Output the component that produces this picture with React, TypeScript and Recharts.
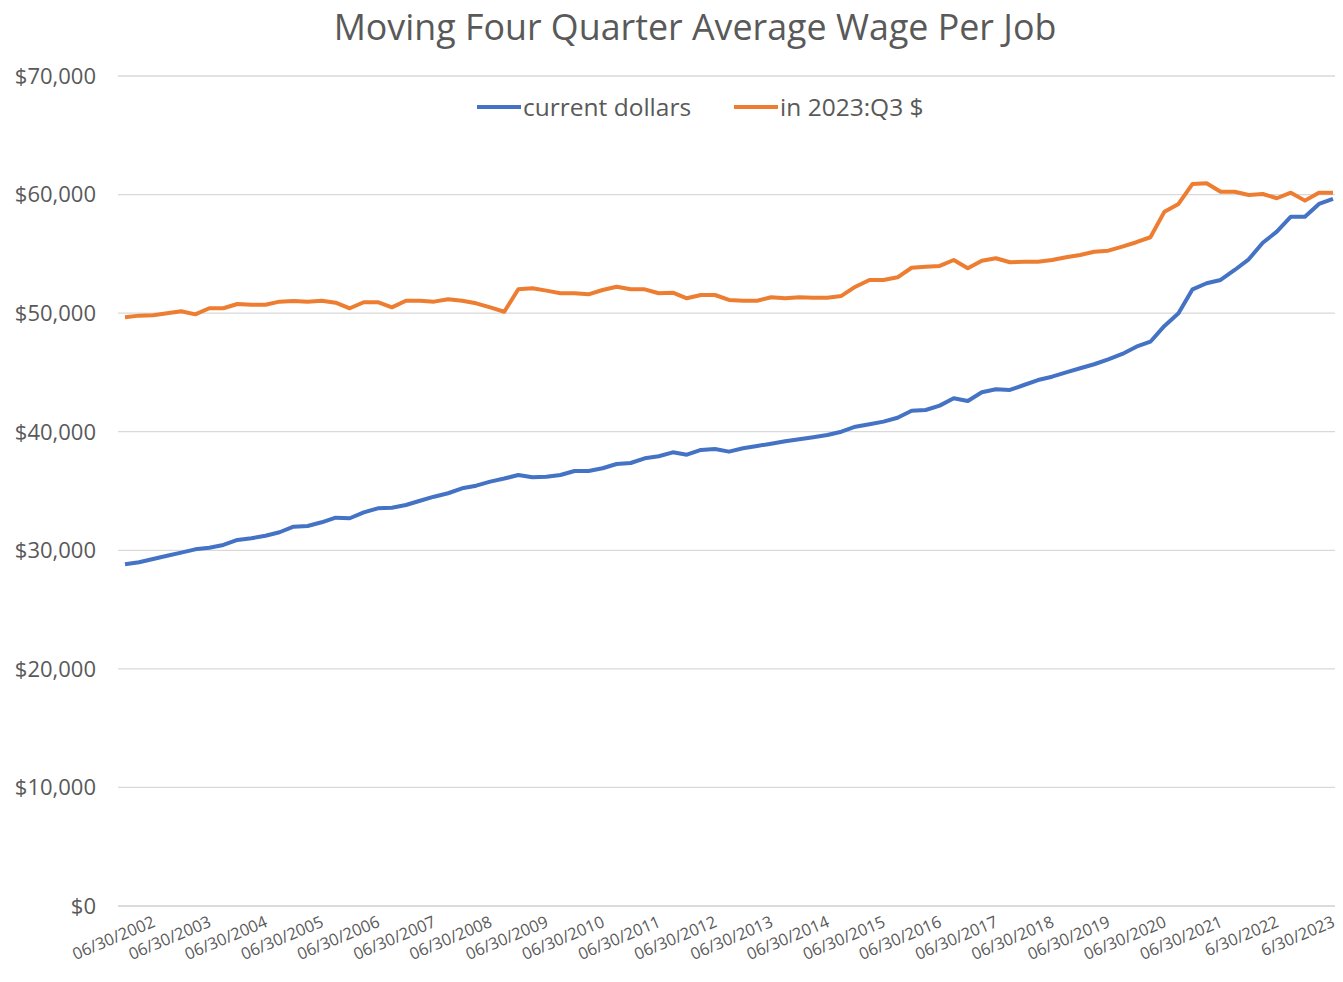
import React from 'react'
import { LineChart, Line, XAxis, YAxis, CartesianGrid } from 'recharts'

// quarter-end categories, 12/31/2001 .. 06/30/2023
const quarterEnds = ['03/31', '06/30', '09/30', '12/31']
const categories: string[] = ['12/31/2001']
for (let y = 2002; y <= 2023; y++) {
  for (const q of quarterEnds) {
    if (categories.length < 87) categories.push(`${q}/${y}`)
  }
}

const tickLabels = [
  '06/30/2002', '06/30/2003', '06/30/2004', '06/30/2005', '06/30/2006', '06/30/2007',
  '06/30/2008', '06/30/2009', '06/30/2010', '06/30/2011', '06/30/2012', '06/30/2013',
  '06/30/2014', '06/30/2015', '06/30/2016', '06/30/2017', '06/30/2018', '06/30/2019',
  '06/30/2020', '06/30/2021', '6/30/2022', '6/30/2023',
]

const currentDollars = [
  28820, 28990, 29270, 29540, 29800, 30080, 30220, 30450, 30870, 31010,
  31230, 31520, 31990, 32050, 32360, 32750, 32700, 33200, 33540, 33590,
  33820, 34180, 34520, 34810, 35230, 35450, 35790, 36050, 36350, 36160,
  36210, 36350, 36690, 36690, 36920, 37280, 37360, 37760, 37930, 38260,
  38060, 38460, 38540, 38320, 38600, 38800, 38990, 39190, 39360, 39530,
  39720, 40000, 40420, 40630, 40850, 41180, 41770, 41830, 42200, 42820,
  42590, 43330, 43580, 43520, 43940, 44360, 44640, 45010, 45350, 45690,
  46110, 46560, 47170, 47590, 48920, 49990, 52010, 52520, 52800, 53640,
  54540, 55940, 56870, 58130, 58130, 59210, 59630,
]

const in2023Q3 = [
  49650, 49790, 49820, 49990, 50160, 49900, 50410, 50410, 50770, 50710,
  50710, 50970, 51030, 50970, 51050, 50880, 50410, 50920, 50920, 50490,
  51050, 51050, 50970, 51170, 51050, 50830, 50480, 50120, 52010, 52100,
  51900, 51680, 51680, 51590, 51950, 52230, 52010, 52010, 51680, 51730,
  51250, 51530, 51530, 51110, 51050, 51050, 51340, 51250, 51340, 51300,
  51300, 51450, 52230, 52800, 52800, 53020, 53830, 53920, 53980, 54480,
  53780, 54420, 54630, 54290, 54340, 54340, 54480, 54710, 54900, 55180,
  55270, 55610, 55980, 56400, 58560, 59210, 60900, 60950, 60240, 60240,
  59970, 60050, 59690, 60160, 59490, 60160, 60160,
]

const yTicks = [0, 10000, 20000, 30000, 40000, 50000, 60000, 70000]

const data = categories.map((d, i) => ({
  date: d,
  current: currentDollars[i],
  real: in2023Q3[i],
}))

const FONT = '"Open Sans", sans-serif'
const GREY = '#595959'

const DateTick = (props: any) => {
  const { x, y, payload } = props
  const i = payload.index
  if (i % 4 !== 2) return <g />
  const ax = x + 3
  const ay = y + 12
  return (
    <text
      x={ax}
      y={ay}
      transform={`rotate(-23, ${ax}, ${ay})`}
      textAnchor="end"
      fill={GREY}
      fontSize={16.5}
      fontFamily={FONT}
    >
      {tickLabels[(i - 2) / 4]}
    </text>
  )
}

const LegendItem = ({ color, label }: { color: string; label: string }) => (
  <div style={{ display: 'flex', alignItems: 'center', marginRight: 43 }}>
    <div style={{ width: 44, height: 4, background: color, marginRight: 2 }} />
    <span>{label}</span>
  </div>
)

export default function App() {
  return (
    <div style={{ position: 'relative', width: 1335, height: 970, fontFamily: FONT, background: '#fff' }}>
      <LineChart
        width={1335}
        height={970}
        data={data}
        margin={{ top: 68, right: 3, left: 0, bottom: 0 }}
      >
        <CartesianGrid vertical={false} stroke="#D9D9D9" strokeWidth={1.3} />
        <XAxis
          dataKey="date"
          interval={0}
          tick={<DateTick />}
          tickLine={false}
          axisLine={{ stroke: '#D9D9D9', strokeWidth: 1.3 }}
          height={72}
          padding={{ left: 7, right: 7 }}
        />
        <YAxis
          domain={[0, 70000]}
          ticks={yTicks}
          width={110}
          tickLine={false}
          axisLine={false}
          tickSize={0}
          tickMargin={22}
          tick={{ fill: GREY, fontSize: 22, fontFamily: FONT }}
          tickFormatter={(v: number) => '$' + v.toLocaleString('en-US')}
        />
        <Line
          dataKey="current"
          name="current dollars"
          stroke="#4472C4"
          strokeWidth={4}
          dot={false}
          strokeLinejoin="round"
          isAnimationActive={false}
        />
        <Line
          dataKey="real"
          name="in 2023:Q3 $"
          stroke="#ED7D31"
          strokeWidth={4}
          dot={false}
          strokeLinejoin="round"
          isAnimationActive={false}
        />
      </LineChart>
      <div
        style={{
          position: 'absolute', top: 0, left: 187, width: 1000, textAlign: 'center',
          fontSize: 35.8, lineHeight: '36px', color: GREY,
        }}
      >
        Moving Four Quarter Average Wage Per Job
      </div>
      <div
        style={{
          position: 'absolute', top: 84, left: 469, display: 'flex',
          fontSize: 24.5, lineHeight: '30px', color: GREY,
        }}
      >
        <LegendItem color="#4472C4" label="current dollars" />
        <LegendItem color="#ED7D31" label="in 2023:Q3 $" />
      </div>
    </div>
  )
}
